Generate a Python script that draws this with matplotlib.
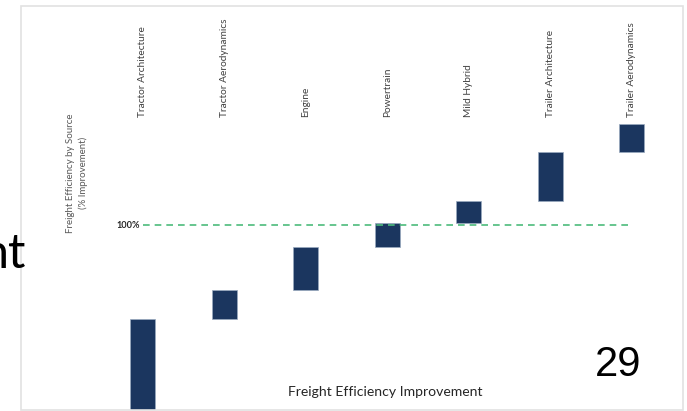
import numpy as np
import matplotlib.pyplot as plt
from matplotlib.patches import Rectangle

plt.rcParams['font.family'] = 'Lato'

# Waterfall data: gain contributed by each source (% improvement)
sources = ['Tractor Architecture', 'Tractor Aerodynamics', 'Engine', 'Powertrain',
           'Mild Hybrid', 'Trailer Architecture', 'Trailer Aerodynamics']
gains = [49, 16, 23, 13, 12, 26.5, 15]
baseline = 100

tops = np.cumsum(gains)
bottoms = tops - np.array(gains)
x = np.arange(len(sources))

W, H = 687, 411
fig = plt.figure(figsize=(W / 100, H / 100), dpi=100)

# slide frame around the chart
fig.patches.append(Rectangle((21 / W, 1 - 410 / H), 662 / W, 404 / H,
                             transform=fig.transFigure, fill=False,
                             edgecolor='#e2e2e2', linewidth=1.2))

ax = fig.add_axes([102 / W, 1 - 410 / H, 570.5 / W, 293 / H])
ax.bar(x, gains, bottom=bottoms, width=0.31, color='#1b365f',
       edgecolor='#9aaac0', linewidth=0.5)
ax.hlines(baseline, 0, len(sources) - 1, colors='#4dbb7c', linestyles=(0, (4, 3)),
          linewidth=1.2)
ax.set_xlim(-0.5, len(sources) - 0.5)
ax.set_ylim(0, 158.4)
ax.axis('off')

for xi, name in zip(x, sources):
    ax.text(xi, 1.0, name, transform=ax.get_xaxis_transform(), rotation=90,
            ha='center', va='bottom', fontsize=7.3, color='#404040')

ax.annotate('100%', (0, baseline), xytext=(-3, 0), textcoords='offset pixels',
            ha='right', va='center', fontsize=6.6, fontweight='bold',
            color='#262626')

fig.text(77 / W, 1 - 173 / H, 'Freight Efficiency by Source\n(% Improvement)',
         rotation=90, ha='center', va='center', fontsize=7, color='#595959',
         linespacing=1.35, multialignment='center')
fig.text(385 / W, 1 - 392 / H, 'Freight Efficiency Improvement', ha='center',
         va='center', fontsize=10.1, color='#262626')

# slide page number and the clipped title text at the left edge
fig.text(618 / W, 1 - 365 / H, '29', ha='center', va='center', fontsize=30,
         family='Liberation Sans', color='black')
fig.text(26 / W, 1 - 268 / H, 'nt', ha='right', va='baseline', fontsize=35,
         color='black')

fig.savefig('out.png', dpi=100)
